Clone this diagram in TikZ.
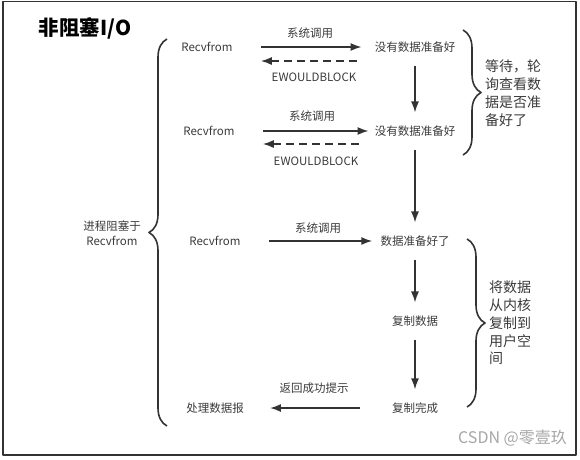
\documentclass[tikz,border=0pt]{standalone}
\usepackage{fontspec}
\setmainfont{Noto Sans CJK SC}
\usetikzlibrary{arrows.meta,calc,decorations.pathreplacing}
\definecolor{nbline}{HTML}{333333}
\definecolor{nbtext}{HTML}{3A3A3A}

\begin{document}
\begin{tikzpicture}[
  x=1pt,
  y=-1pt,
  line join=round,
  txt/.style={inner sep=0pt,text=nbtext,font=\fontsize{11.5}{14.5}\selectfont},
  sidenote/.style={inner sep=0pt,text=nbtext,align=left,font=\fontsize{14}{17.8}\selectfont},
  arrow/.style={draw=nbline,line width=1.6pt,-{Latex[length=11pt,width=8pt]}},
  backarrow/.style={arrow,dash pattern=on 8pt off 5pt},
  curly/.style={draw=nbline,line width=1.6pt,decorate,decoration={brace,amplitude=18pt}}
]
  % Keep the artwork frame at 580x459.
  \useasboundingbox (0,0) rectangle (580,459);
  \draw[draw=nbline,line width=1.6pt] (3,1.5) rectangle (576,455);

  \node[inner sep=0pt,font=\fontsize{20.5}{24}\selectfont\bfseries] (title) at (85,28) {非阻塞I/O};

  % Process side (left column).
  \node[txt,align=center] (blk) at (112,233) {进程阻塞于\\Recvfrom};
  \node[txt] (rf1) at (207,47) {Recvfrom};
  \node[txt] (rf2) at (209,131) {Recvfrom};
  \node[txt] (rf3) at (215,241) {Recvfrom};
  \node[txt] (proc) at (215,408) {处理数据报};

  % Kernel side (right column).
  \node[txt] (nd1) at (415,47) {没有数据准备好};
  \node[txt] (nd2) at (415,131) {没有数据准备好};
  \node[txt] (ready) at (415,241) {数据准备好了};
  \node[txt] (copy) at (415,321) {复制数据};
  \node[txt] (done) at (415,408) {复制完成};

  % System calls and the EWOULDBLOCK replies.
  \draw[arrow,shorten <=28pt,shorten >=13pt] (rf1) -- (nd1);
  \draw[backarrow] ($(nd1.west)+(-18,14)$) -- ($(rf1.east)+(28,14)$);
  \draw[arrow,shorten <=28pt,shorten >=6pt] (rf2) -- (nd2);
  \draw[backarrow] ($(nd2.west)+(-16,13)$) -- ($(rf2.east)+(28,13)$);
  \draw[arrow,shorten <=28pt,shorten >=8pt] (rf3) -- (ready);
  \draw[arrow,shorten <=32pt,shorten >=26pt] (done) -- (proc);

  \node[txt] (call1) at (310,33) {系统调用};
  \node[txt] (ewb1) at (314,77) {EWOULDBLOCK};
  \node[txt] (call2) at (312,116) {系统调用};
  \node[txt] (ewb2) at (316,161) {EWOULDBLOCK};
  \node[txt] (call3) at (318,228) {系统调用};
  \node[txt] (ret) at (314,388) {返回成功提示};

  % Kernel steps, top to bottom.
  \foreach \a/\b in {nd1/nd2,nd2/ready,ready/copy,copy/done} {
    \draw[arrow,shorten <=13pt,shorten >=13pt] (\a) -- (\b);
  }

  % Braces and their notes.
  \draw[curly] (167,426) -- (167,39);
  \draw[curly] (463,30) -- (463,155);
  \draw[curly] (467,239) -- (467,407);
  \node[sidenote,anchor=west] (wait) at (485,93) {等待，轮\\询查看数\\据是否准\\备好了};
  \node[sidenote,anchor=west] (move) at (489,323) {将数据\\从内核\\复制到\\用户空\\间};

  \node[inner sep=0pt,text=black!35,font=\fontsize{16}{18}\selectfont,anchor=east] (mark) at (567,438) {CSDN @零壹玖};
\end{tikzpicture}
\end{document}
